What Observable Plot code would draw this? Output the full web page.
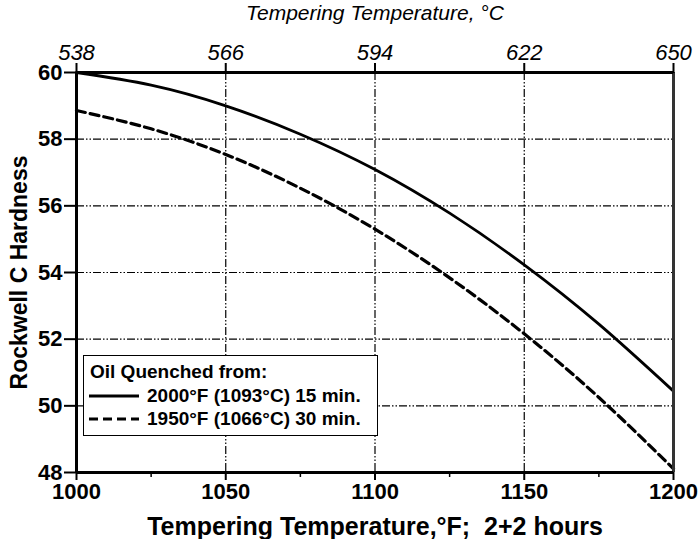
<!DOCTYPE html>
<html>
<head>
<meta charset="utf-8">
<script src="https://cdn.jsdelivr.net/npm/d3@7"></script>
<script src="https://cdn.jsdelivr.net/npm/@observablehq/plot@0.6"></script>
<style>
  body { margin: 0; background: #fff; }
  #wrap { position: relative; width: 699px; height: 539px; font-family: "Liberation Sans", Arial, sans-serif; }
  #legend { position: absolute; left: 83px; top: 355px; width: 293px; height: 79px; border: 1.5px solid #000; background: #fff; font-weight: bold; font-size: 19px; color: #000; }
  #legend .t { position: absolute; left: 6px; top: 5px; line-height: 22px; white-space: nowrap; }
  #legend .row { position: absolute; left: 3px; height: 22px; display: flex; align-items: center; white-space: nowrap; }
  #legend svg { display: block; margin-right: 6px; }
</style>
</head>
<body>
<div id="wrap"></div>
<script>
// ---- data ----
const tempF = [1000, 1025, 1050, 1075, 1100, 1125, 1150, 1175, 1200];
const hrc2000 = [60.0, 59.62, 59.0, 58.15, 57.09, 55.78, 54.23, 52.45, 50.44];
const hrc1950 = [58.86, 58.31, 57.54, 56.53, 55.3, 53.84, 52.16, 50.25, 48.11];
const seriesNames = ["2000°F (1093°C) 15 min.", "1950°F (1066°C) 30 min."];
const legendTitle = "Oil Quenched from:";
const xTicks = [1000, 1050, 1100, 1150, 1200];
const xMinorTicks = [1025, 1075, 1125, 1175];
const cTickLabels = ["538", "566", "594", "622", "650"];
const yTicks = [48, 50, 52, 54, 56, 58, 60];
const gridXValues = [1050, 1100, 1150];
const gridYValues = [50, 52, 54, 56, 58];
const xTitle = "Tempering Temperature,°F;  2+2 hours";
const topTitle = "Tempering Temperature, °C";
const yTitle = "Rockwell C Hardness";

const d2000 = tempF.map((t, i) => ({t, h: hrc2000[i]}));
const d1950 = tempF.map((t, i) => ({t, h: hrc1950[i]}));

const gridDash = "8,2,1.5,2,1.5,2";
const dash1950 = "9,5";

const chart = Plot.plot({
  width: 699, height: 539,
  marginLeft: 76, marginRight: 26, marginTop: 72, marginBottom: 67,
  style: {fontFamily: "'Liberation Sans', Arial, sans-serif", background: "white", color: "black", overflow: "visible"},
  x: {domain: [1000, 1200]},
  y: {domain: [48, 60]},
  marks: [
    Plot.gridX(gridXValues, {stroke: "black", strokeOpacity: 1, strokeWidth: 1.2, strokeDasharray: gridDash}),
    Plot.gridY(gridYValues, {stroke: "black", strokeOpacity: 1, strokeWidth: 1.2, strokeDasharray: gridDash}),
    Plot.line(d2000, {x: "t", y: "h", curve: "natural", stroke: "black", strokeWidth: 2.8}),
    Plot.line(d1950, {x: "t", y: "h", curve: "natural", stroke: "black", strokeWidth: 3.2, strokeDasharray: dash1950}),
    Plot.ruleX([1200], {stroke: "#333", strokeWidth: 3}),
    Plot.ruleX([1000], {stroke: "black", strokeWidth: 3}),
    Plot.ruleY([48], {stroke: "black", strokeWidth: 3}),
    Plot.ruleY([60], {stroke: "black", strokeWidth: 3}),
    Plot.axisX(xMinorTicks, {anchor: "bottom", tickSize: 5, strokeWidth: 1.5, tickFormat: () => "", label: null}),
    Plot.axisX(xTicks, {anchor: "bottom", tickSize: 8, tickPadding: 3, strokeWidth: 2, tickFormat: d => String(d),
      fontSize: 22, fontWeight: "bold", label: null}),
    Plot.axisX([], {anchor: "bottom", tickSize: 0, fontSize: 25, fontWeight: "bold", dx: -8,
      label: xTitle, labelAnchor: "center", labelArrow: "none", labelOffset: 62}),
    Plot.axisX(xTicks, {anchor: "top", tickSize: 10, tickPadding: 3, strokeWidth: 2,
      tickFormat: d => cTickLabels[xTicks.indexOf(d)],
      fontSize: 22, fontStyle: "italic", label: null}),
    Plot.axisX([], {anchor: "top", tickSize: 0, fontSize: 21, fontStyle: "italic", dx: -8,
      label: topTitle, labelAnchor: "center", labelArrow: "none", labelOffset: 67}),
    Plot.axisY(yTicks, {anchor: "left", tickSize: 12, tickPadding: 2, strokeWidth: 2, tickFormat: d => String(d),
      fontSize: 22, fontWeight: "bold", label: null}),
    Plot.axisY([], {anchor: "left", tickSize: 0, fontSize: 23, fontWeight: "bold",
      label: yTitle, labelAnchor: "center", labelArrow: "none", labelOffset: 66})
  ]
});

const wrap = document.getElementById("wrap");
wrap.appendChild(chart);

// legend overlay (inside plot frame, as in reference)
const legend = document.createElement("div");
legend.id = "legend";
const lt = document.createElement("div");
lt.className = "t";
lt.textContent = legendTitle;
legend.appendChild(lt);
const dashes = [null, dash1950];
const widths = [2.8, 3.2];
seriesNames.forEach((name, i) => {
  const row = document.createElement("div");
  row.className = "row";
  row.style.top = (i === 0 ? 29 : 52) + "px";
  const ns = "http://www.w3.org/2000/svg";
  const s = document.createElementNS(ns, "svg");
  s.setAttribute("width", "54"); s.setAttribute("height", "12");
  const ln = document.createElementNS(ns, "line");
  ln.setAttribute("x1", "2"); ln.setAttribute("x2", "52");
  ln.setAttribute("y1", "6"); ln.setAttribute("y2", "6");
  ln.setAttribute("stroke", "#000"); ln.setAttribute("stroke-width", widths[i]);
  if (dashes[i]) ln.setAttribute("stroke-dasharray", dashes[i]);
  s.appendChild(ln);
  row.appendChild(s);
  const sp = document.createElement("span");
  sp.textContent = name;
  row.appendChild(sp);
  legend.appendChild(row);
});
wrap.appendChild(legend);
</script>
</body>
</html>
